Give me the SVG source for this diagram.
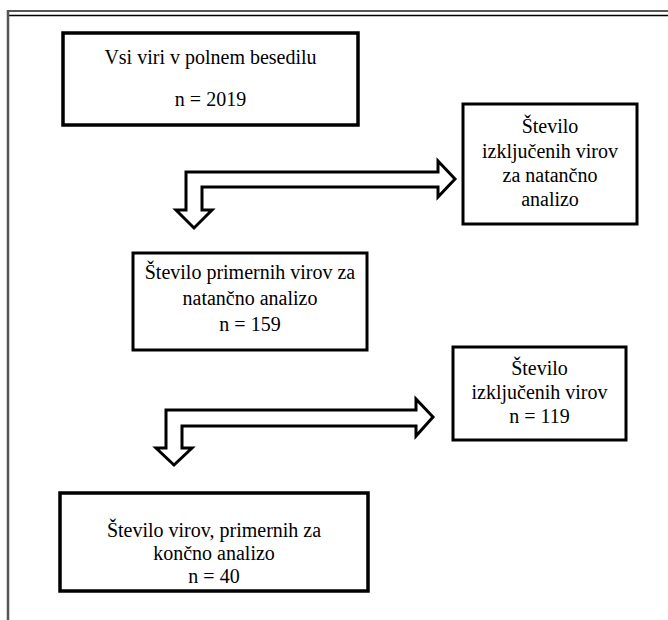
<svg xmlns="http://www.w3.org/2000/svg" width="668" height="620" viewBox="0 0 668 620">
<style>
.box{fill:#fff;stroke:#000;stroke-width:3.5}
.t{font-family:"Liberation Serif","Times New Roman",serif;font-size:20px;fill:#000;text-anchor:middle}
.arr{fill:#fff;stroke:#000;stroke-width:3;stroke-linejoin:miter}
</style>
<rect width="668" height="620" fill="#fff"/>
<g id="frame">
<line x1="7" y1="11" x2="668" y2="11" stroke="#555" stroke-width="2"/>
<line x1="9" y1="15.5" x2="668" y2="15.5" stroke="#000" stroke-width="1.5"/>
<line x1="8" y1="10" x2="8" y2="620" stroke="#555" stroke-width="2.5"/>
</g>
<g id="connectors">
<polygon class="arr" points="186,172 438,172 438,161 455,179 438,197 438,187 202,187 202,210 212,210 194,228 176,210 186,210"/>
<polygon class="arr" points="166,410 416,410 416,399 433,417 416,436 416,426 182,426 182,448 192,448 174,465 156,448 166,448"/>
</g>
<g id="n1">
<rect class="box" x="63" y="33" width="295" height="92"/>
<text class="t" x="210.5" y="64">Vsi viri v polnem besedilu</text>
<text class="t" x="210.5" y="106">n = 2019</text>
</g>
<g id="n2">
<rect class="box" x="463" y="104" width="174" height="120" style="stroke-width:3"/>
<text class="t" x="550" y="133">Število</text>
<text class="t" x="550" y="158">izključenih virov</text>
<text class="t" x="550" y="182">za natančno</text>
<text class="t" x="550" y="206">analizo</text>
</g>
<g id="n3">
<rect class="box" x="133" y="253" width="234" height="97" style="stroke-width:3"/>
<text class="t" x="250" y="279">Število primernih virov za</text>
<text class="t" x="250" y="305">natančno analizo</text>
<text class="t" x="250" y="331">n = 159</text>
</g>
<g id="n4">
<rect class="box" x="453" y="347" width="173" height="93" style="stroke-width:3"/>
<text class="t" x="539.5" y="375">Število</text>
<text class="t" x="539.5" y="399">izključenih virov</text>
<text class="t" x="539.5" y="423">n = 119</text>
</g>
<g id="n5">
<rect class="box" x="60" y="493" width="308" height="98"/>
<text class="t" x="214" y="537">Število virov, primernih za</text>
<text class="t" x="214" y="560">končno analizo</text>
<text class="t" x="214" y="583">n = 40</text>
</g>
</svg>
